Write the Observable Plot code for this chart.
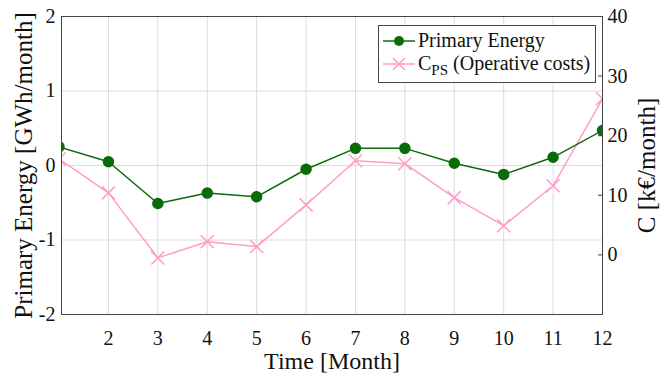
<!DOCTYPE html>
<html>
<head>
<meta charset="utf-8">
<script src="https://cdn.jsdelivr.net/npm/d3@7"></script>
<script src="https://cdn.jsdelivr.net/npm/@observablehq/plot@0.6"></script>
<style>
  html, body { margin: 0; padding: 0; background: #fff; }
  #wrap { position: relative; width: 660px; height: 376px; }
  svg { font-family: "Liberation Serif", "Times New Roman", serif; }
  g[aria-label="x-axis label"] text { font-size: 24px; }
  g[aria-label="y-axis label"] text { font-size: 25px; }
  #legend {
    position: absolute; left: 378px; top: 25px; width: 218px; height: 58px;
    border: 1px solid #444; background: #fff; box-sizing: border-box;
    font-family: "Liberation Serif", "Times New Roman", serif; font-size: 20px; color: #111;
  }
  .row { position: absolute; left: 3px; display: flex; align-items: center; white-space: nowrap; }
  .row svg { margin-right: 2px; }
  sub { font-size: 15px; vertical-align: -5px; line-height: 0; }
</style>
</head>
<body>
<div id="wrap"></div>
<script>
const months = [1, 2, 3, 4, 5, 6, 7, 8, 9, 10, 11, 12];
const primaryEnergy = [0.25, 0.05, -0.51, -0.37, -0.42, -0.05, 0.23, 0.23, 0.03, -0.12, 0.11, 0.47];
const operativeCosts = [16.1, 10.4, -0.5, 2.2, 1.4, 8.4, 15.8, 15.3, 9.6, 4.9, 11.6, 26.2];
const xTicks = [2, 3, 4, 5, 6, 7, 8, 9, 10, 11, 12];
const leftTicks = [-2, -1, 0, 1, 2];
const rightTicks = [0, 10, 20, 30, 40];

const green = "#0b6b0b";
const pink = "#ff9cc8";

// secondary axis mapping: right [-10, 40] <-> left [-2, 2]
const toLeft = c => (c - 15) / 12.5;
const fromLeft = v => Math.round(v * 12.5 + 15);

const pe = months.map((m, i) => ({month: m, value: primaryEnergy[i]}));
const oc = months.map((m, i) => ({month: m, value: operativeCosts[i]}));

const chart = Plot.plot({
  width: 660,
  height: 376,
  marginLeft: 61,
  marginRight: 58,
  marginTop: 16,
  marginBottom: 62,
  style: {fontFamily: '"Liberation Serif", "Times New Roman", serif', fontSize: "20px", color: "#111", background: "#fff"},
  x: {domain: [1.05, 12]},
  y: {domain: [-2, 2]},
  marks: [
    Plot.gridX(xTicks.slice(0, -1), {stroke: "#dcdcdc", strokeOpacity: 1}),
    Plot.gridY([-1, 0, 1], {stroke: "#dcdcdc", strokeOpacity: 1}),
    Plot.axisX(xTicks, {tickSize: 0, tickPadding: 16, fontSize: 20, label: "Time [Month]", labelAnchor: "center", labelArrow: "none", labelOffset: 54, tickFormat: d => String(d)}),
    Plot.axisY(leftTicks, {anchor: "left", tickSize: 0, tickPadding: 6, fontSize: 20, label: "Primary Energy [GWh/month]", labelAnchor: "center", labelArrow: "none", labelOffset: 47, tickFormat: d => String(d)}),
    Plot.axisY(rightTicks.map(toLeft), {anchor: "right", tickSize: -5, tickPadding: 10, fontSize: 20, label: "C [k€/month]", labelAnchor: "center", labelArrow: "none", labelOffset: 52, tickFormat: d => String(fromLeft(d)), stroke: "#444"}),
    Plot.line(oc, {x: "month", y: d => toLeft(d.value), stroke: pink, strokeWidth: 1.5, clip: true}),
    Plot.dot(oc, {x: "month", y: d => toLeft(d.value), symbol: "times", r: 6, stroke: pink, strokeWidth: 1.5, clip: true}),
    Plot.line(pe, {x: "month", y: "value", stroke: green, strokeWidth: 1.5, clip: true}),
    Plot.dot(pe, {x: "month", y: "value", r: 5, fill: green, stroke: green, clip: true}),
    Plot.frame({stroke: "#444"})
  ]
});

const wrap = document.getElementById("wrap");
wrap.appendChild(chart);

const legend = document.createElement("div");
legend.id = "legend";
legend.innerHTML = `
  <div class="row" style="top:3px">
    <svg width="34" height="20"><line x1="1" y1="10" x2="33" y2="10" stroke="${green}" stroke-width="1.5"/><circle cx="17" cy="10" r="5" fill="${green}"/></svg>
    <span>Primary Energy</span>
  </div>
  <div class="row" style="top:26px">
    <svg width="34" height="20"><line x1="1" y1="10" x2="33" y2="10" stroke="${pink}" stroke-width="1.5"/><path d="M11,4L23,16M23,4L11,16" stroke="${pink}" stroke-width="1.5"/></svg>
    <span>C<sub>PS</sub> (Operative costs)</span>
  </div>`;
wrap.appendChild(legend);
</script>
</body>
</html>
